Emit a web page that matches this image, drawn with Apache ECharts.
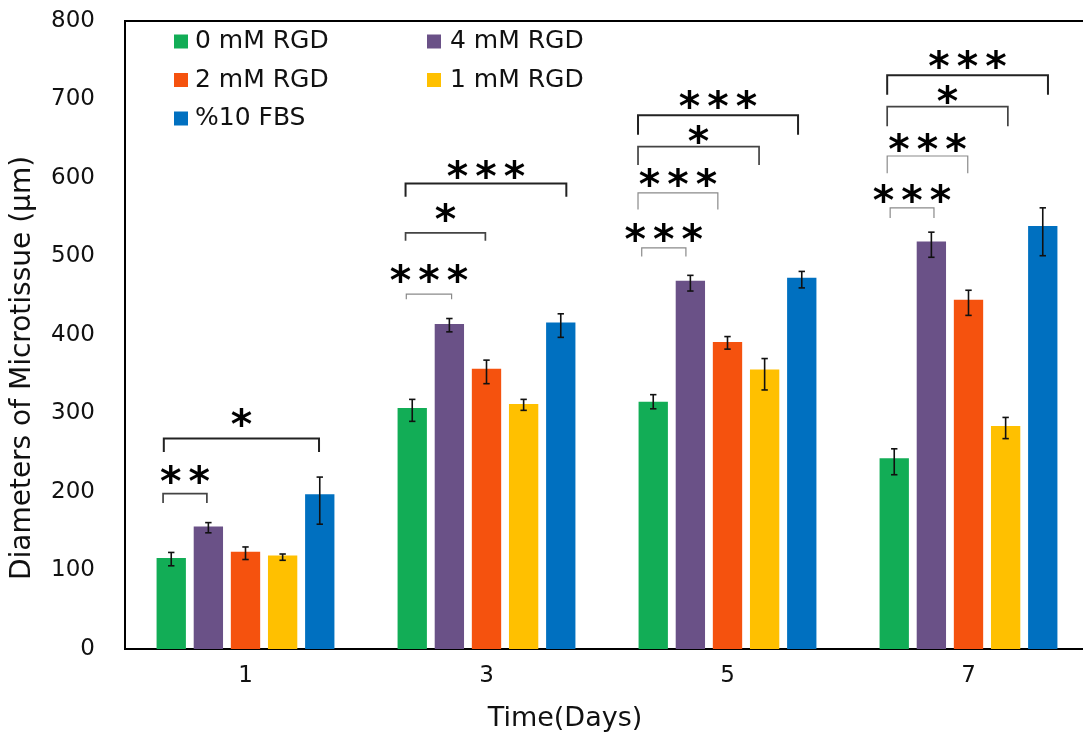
<!DOCTYPE html>
<html>
<head>
<meta charset="utf-8">
<script src="https://cdn.jsdelivr.net/npm/echarts@6/dist/echarts.min.js"></script>
<style>
html,body{margin:0;padding:0;background:#fff;}
#chart{width:1083px;height:737px;}
</style>
</head>
<body>
<div id="chart"></div>
<script>
// ---------- data ----------
const categories = ['1', '3', '5', '7'];
const seriesNames = ['0 mM RGD', '4 mM RGD', '2 mM RGD', '1 mM RGD', '%10 FBS'];
const yTicks = [0, 100, 200, 300, 400, 500, 600, 700, 800];

const rgd0 = [116, 307, 315, 243];
const rgd4 = [156, 414, 469, 519];
const rgd2 = [124, 357, 391, 445];
const rgd1 = [119, 312, 356, 284];
const fbs  = [197, 416, 473, 539];

const rgd0Low = [106, 290, 306, 222], rgd0High = [123, 318, 324, 255];
const rgd4Low = [148, 404, 456, 499], rgd4High = [161, 421, 476, 531];
const rgd2Low = [114, 338, 382, 425], rgd2High = [130, 368, 398, 457];
const rgd1Low = [113, 304, 330, 268], rgd1High = [121, 318, 370, 295];
const fbsLow  = [159, 397, 460, 501], fbsHigh  = [219, 427, 481, 562];

// significance brackets (day index, from/to bar slot, y of bar line, y of feet, y of stars, number of stars)
const bracketDay   = [0, 0, 1, 1, 1, 2, 2, 2, 2, 3, 3, 3, 3];
const bracketFrom  = [-0.22, -0.2, -0.16, -0.18, -0.18, -0.31, -0.41, -0.41, -0.41, -0.11, -0.19, -0.19, -0.19];
const bracketTo    = [0.96, 3.98, 1.06, 1.97, 4.15, 0.88, 1.74, 2.85, 3.9, 1.07, 1.98, 3.06, 4.14];
const bracketTop   = [198, 268, 452, 530, 593, 511, 581, 640, 680, 562, 628, 691, 731];
const bracketFoot  = [186, 251, 445.5, 520, 576, 500, 560, 616.5, 655, 549, 606, 666, 706];
const starY        = [222, 294, 478, 555, 611, 530, 600, 655, 699, 580, 645, 706, 750];
const starCount    = [2, 1, 3, 1, 3, 3, 3, 1, 3, 3, 3, 1, 3];

// ---------- build ----------
const colors = ['#12ad56', '#6a5187', '#f5520e', '#ffc000', '#0070c0'];
const values = [rgd0, rgd4, rgd2, rgd1, fbs];
const lows = [rgd0Low, rgd4Low, rgd2Low, rgd1Low, fbsLow];
const highs = [rgd0High, rgd4High, rgd2High, rgd1High, fbsHigh];

const BAR_FRAC = 0.1217;  // bar width as a fraction of category band
const BAR_GAP = 0.266;    // gap relative to bar width
const FONT = '"DejaVu Sans", sans-serif';

function slotX(api, cat, slot) {
  const c = api.coord([cat, 0])[0];
  const band = api.size([1, 0])[0];
  const w = band * BAR_FRAC;
  const pitch = w * (1 + BAR_GAP);
  return c + (slot - 2) * pitch;
}

const errData = [];
for (let s = 0; s < 5; s++) {
  for (let c = 0; c < categories.length; c++) {
    errData.push([c, lows[s][c], highs[s][c], s]);
  }
}

// rank from top within each day for bracket styling
const bracketRank = bracketDay.map((d, i) => {
  let r = 0;
  bracketDay.forEach((d2, j) => { if (d2 === d && bracketTop[j] > bracketTop[i]) r++; });
  return r;
});
const bracketData = bracketDay.map((d, i) => [d, bracketFrom[i], bracketTo[i], bracketTop[i], bracketFoot[i], starY[i], starCount[i], bracketRank[i]]);

const barSeries = seriesNames.map((name, s) => ({
  name: name,
  type: 'bar',
  data: values[s],
  barWidth: (BAR_FRAC * 100) + '%',
  barGap: (BAR_GAP * 100) + '%',
  itemStyle: { color: colors[s] },
  z: 2
}));

const chart = echarts.init(document.getElementById('chart'), null, { renderer: 'canvas' });
chart.setOption({
  animation: false,
  color: colors,
  textStyle: { fontFamily: FONT },
  grid: {
    left: 125, top: 21, width: 964, height: 628,
    show: true, borderColor: '#000', borderWidth: 2,
    outerBoundsMode: 'none', containLabel: false
  },
  legend: [
    {
      data: ['0 mM RGD', '2 mM RGD', '%10 FBS'],
      orient: 'vertical', left: 174, top: 29, padding: 0,
      itemWidth: 14, itemHeight: 14, itemGap: 13.5, icon: 'rect',
      textStyle: { fontSize: 25, lineHeight: 25, color: '#111', fontFamily: FONT, padding: [0, 0, 0, 2] }
    },
    {
      data: ['4 mM RGD', '1 mM RGD'],
      orient: 'vertical', left: 427, top: 29, padding: 0,
      itemWidth: 14, itemHeight: 14, itemGap: 13.5, icon: 'rect',
      textStyle: { fontSize: 25, lineHeight: 25, color: '#111', fontFamily: FONT, padding: [0, 0, 0, 4] }
    }
  ],
  xAxis: {
    type: 'category',
    data: categories,
    boundaryGap: true,
    name: 'Time(Days)',
    nameLocation: 'middle',
    nameGap: 56,
    nameTextStyle: { fontSize: 27, color: '#111', padding: [0, 84, 0, 0] },
    axisLine: { show: true, lineStyle: { color: '#000', width: 2 } },
    axisTick: { show: false },
    axisLabel: { fontSize: 23, color: '#111', margin: 16 },
    splitLine: { show: false }
  },
  yAxis: {
    type: 'value',
    min: yTicks[0], max: yTicks[yTicks.length - 1], interval: yTicks[1] - yTicks[0],
    name: 'Diameters of Microtissue (\u03bcm)',
    nameLocation: 'middle',
    nameGap: 88,
    nameTextStyle: { fontSize: 28, color: '#111', padding: [0, 66, 0, 0] },
    axisLine: { show: true, lineStyle: { color: '#000', width: 2 } },
    axisTick: { show: false },
    axisLabel: { fontSize: 23, color: '#111', margin: 30 },
    splitLine: { show: false }
  },
  series: barSeries.concat([
    {
      type: 'custom',
      name: 'errors',
      data: errData,
      z: 5,
      clip: false,
      encode: { x: 0, y: [1, 2] },
      renderItem: function (params, api) {
        const c = api.value(0), s = api.value(3);
        const x = slotX(api, c, s);
        const y1 = api.coord([c, api.value(1)])[1];
        const y2 = api.coord([c, api.value(2)])[1];
        const cap = 3.2;
        const st = { stroke: '#111', lineWidth: 1.6 };
        return {
          type: 'group',
          children: [
            { type: 'line', shape: { x1: x, y1: y1, x2: x, y2: y2 }, style: st },
            { type: 'line', shape: { x1: x - cap, y1: y1, x2: x + cap, y2: y1 }, style: st },
            { type: 'line', shape: { x1: x - cap, y1: y2, x2: x + cap, y2: y2 }, style: st }
          ]
        };
      }
    },
    {
      type: 'custom',
      name: 'brackets',
      data: bracketData,
      z: 6,
      clip: false,
      encode: { x: 0, y: 3 },
      renderItem: function (params, api) {
        const d = api.value(0);
        const xa = slotX(api, d, api.value(1));
        const xb = slotX(api, d, api.value(2));
        const yt = api.coord([d, api.value(3)])[1];
        const yf = api.coord([d, api.value(4)])[1];
        const ys = api.coord([d, api.value(5)])[1];
        const n = api.value(6);
        const rank = api.value(7);
        const stroke = rank === 0 ? '#222' : (rank === 1 ? '#444' : '#8a8a8a');
        const lw = rank === 0 ? 2 : (rank === 1 ? 1.7 : 1.2);
        const children = [{
          type: 'polyline',
          shape: { points: [[xa, yf], [xa, yt], [xb, yt], [xb, yf]] },
          style: { stroke: stroke, lineWidth: lw, fill: null }
        }];
        const cx = (xa + xb) / 2;
        const spacing = 28.5;
        for (let k = 0; k < n; k++) {
          children.push({
            type: 'text',
            style: {
              text: '*',
              x: cx + (k - (n - 1) / 2) * spacing,
              y: ys + 9.5,
              fontSize: 41, fontWeight: 'bold', fontFamily: FONT,
              align: 'center', verticalAlign: 'middle', fill: '#000'
            }
          });
        }
        return { type: 'group', children: children };
      }
    }
  ])
});
</script>
</body>
</html>
